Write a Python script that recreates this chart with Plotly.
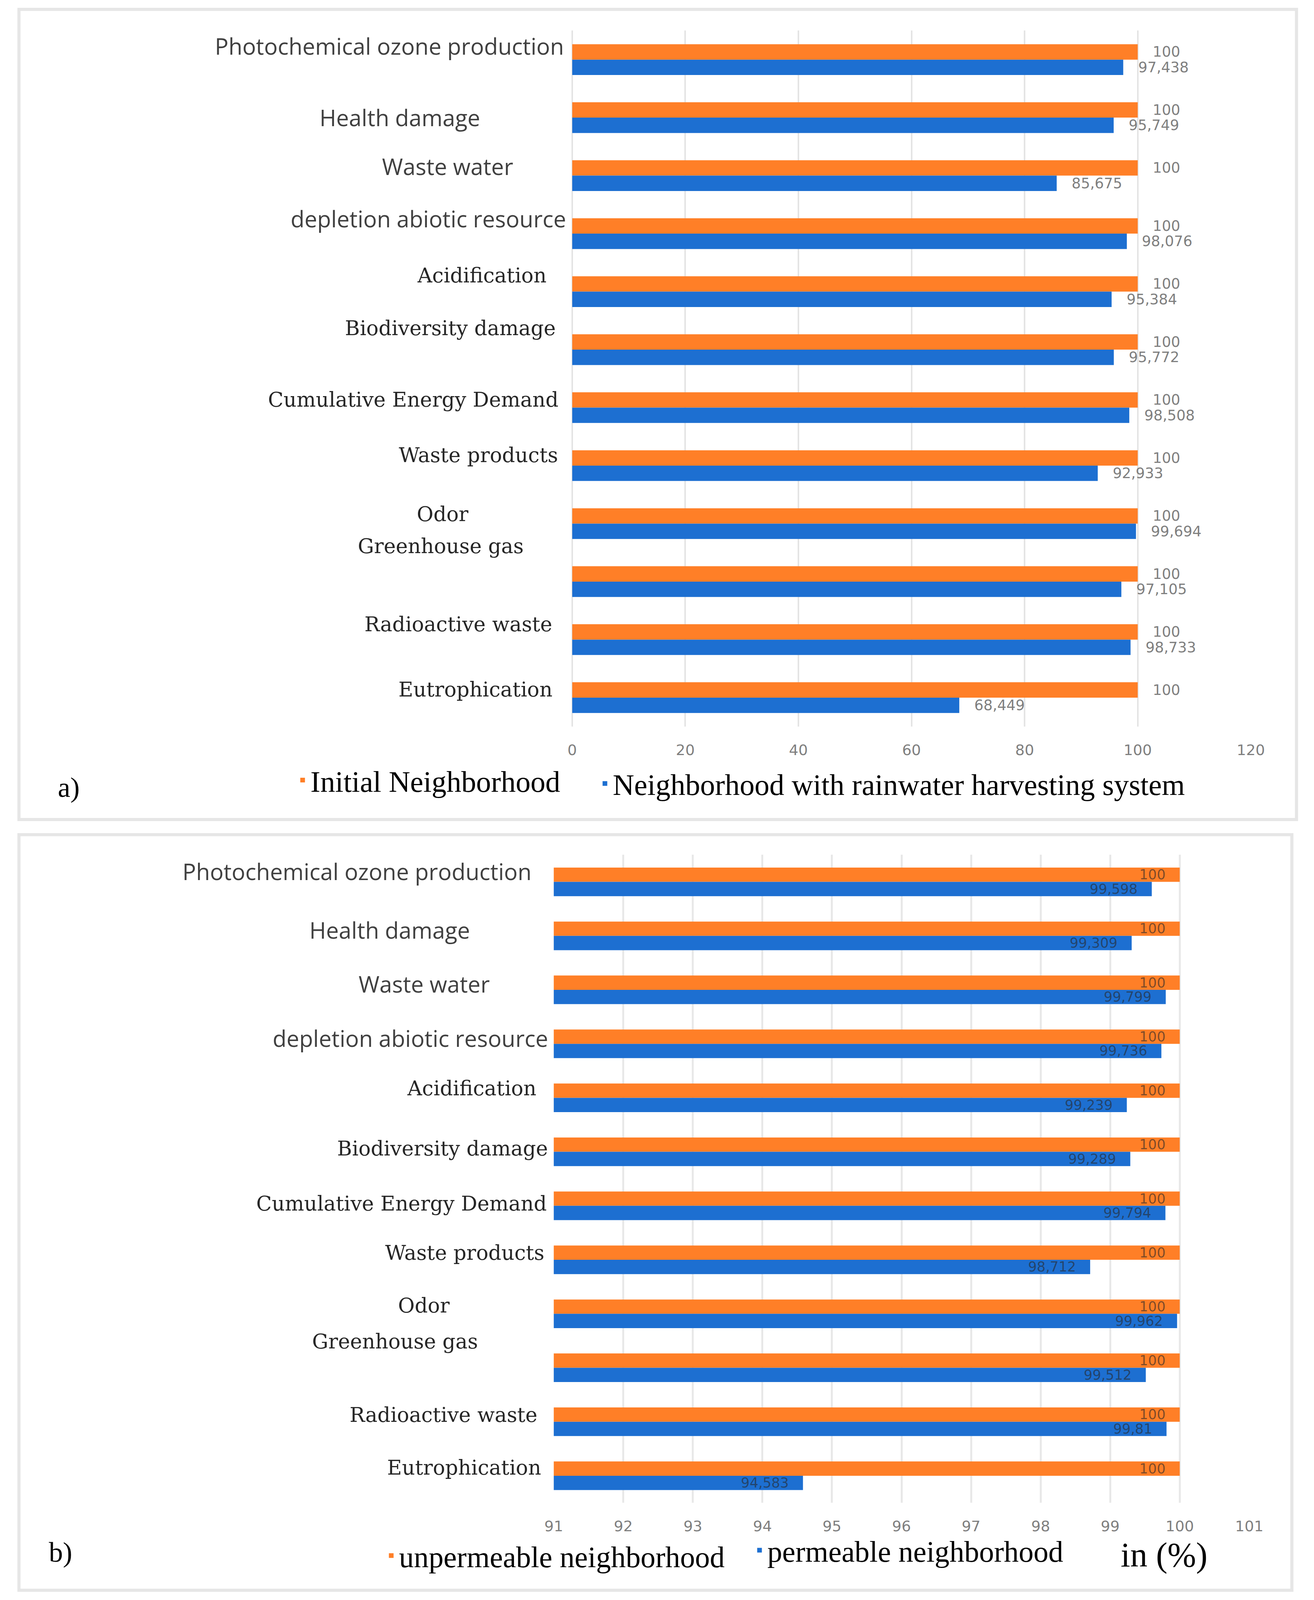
import plotly.graph_objects as go

# ---------------- data ----------------
categories = [
    "Photochemical ozone production",
    "Health damage",
    "Waste water",
    "depletion abiotic resource",
    "Acidification",
    "Biodiversity damage",
    "Cumulative Energy Demand",
    "Waste products",
    "Odor",
    "Greenhouse gas",
    "Radioactive waste",
    "Eutrophication",
]
initial_neighborhood = [100, 100, 100, 100, 100, 100, 100, 100, 100, 100, 100, 100]
rainwater_neighborhood = [97.438, 95.749, 85.675, 98.076, 95.384, 95.772,
                          98.508, 92.933, 99.694, 97.105, 98.733, 68.449]
unpermeable_neighborhood = [100, 100, 100, 100, 100, 100, 100, 100, 100, 100, 100, 100]
permeable_neighborhood = [99.598, 99.309, 99.799, 99.736, 99.239, 99.289,
                          99.794, 98.712, 99.962, 99.512, 99.81, 94.583]

legend_a = ["Initial Neighborhood", "Neighborhood with rainwater harvesting system"]
legend_b = ["unpermeable neighborhood", "permeable neighborhood"]

# ---------------- style ----------------
W, H = 3364, 4754   # reference design size (positions below are given in these pixels)
ORANGE = "#FF7F27"
BLUE = "#1D6FD1"
SANS = "Open Sans"
NUM = "DejaVu Sans"
SERIF = "DejaVu Serif"
LEG_SERIF = "Liberation Serif"
N_SANS_LABELS = 4  # first labels drawn in a sans face, the rest in a serif face

# label placement tweaks (pixels): shift from the plot's left edge, vertical shift
lab_dx_a = [-19, -234, -149, -14, -64, -40, -33, -34, -264, -122, -49, -49]
lab_dy_a = [35, 1, 24, 39, 42, 55, 21, 27, 24, 91, 39, 21]
lab_dx_b = [-55, -213, -162, -13, -43, -13, -16, -22, -265, -192, -40, -31]
lab_dy_b = [27, 15, 15, 15, 24, 9, 6, 18, 21, 67, 18, 21]


def px_x(p):
    return p / W


def px_y(p):
    return 1 - p / H


def fmt(v):
    return f"{v:g}".replace(".", ",")


PAD = "\u00a0\u00a0\u00a0"

fig = go.Figure()

# ---------- panel a ----------
for vals, name, col, leg in [(initial_neighborhood, legend_a[0], ORANGE, "legend"),
                             (rainwater_neighborhood, legend_a[1], BLUE, "legend3")]:
    fig.add_trace(go.Bar(
        y=categories, x=vals, orientation="h", name=name,
        marker=dict(color=col, line=dict(width=0)),
        text=[PAD + fmt(v) for v in vals], textposition="outside",
        textangle=0, constraintext="none", cliponaxis=False,
        textfont=dict(family=NUM, size=37, color="#7F7F7F"),
        xaxis="x", yaxis="y", legend=leg, hoverinfo="skip",
    ))

# ---------- panel b ----------
for vals, name, col, leg in [(unpermeable_neighborhood, legend_b[0], ORANGE, "legend2"),
                             (permeable_neighborhood, legend_b[1], BLUE, "legend4")]:
    fig.add_trace(go.Bar(
        y=categories, x=vals, orientation="h", name=name,
        marker=dict(color=col, line=dict(width=0)),
        text=[fmt(v) + PAD for v in vals], textposition="inside",
        insidetextanchor="end", textangle=0, constraintext="none",
        textfont=dict(family=NUM, size=35, color="rgba(40,40,40,0.6)"),
        xaxis="x2", yaxis="y2", legend=leg, hoverinfo="skip",
    ))

annotations = []
for i, cat in enumerate(categories):
    fam = SANS if i < N_SANS_LABELS else SERIF
    colr = "#404040" if i < N_SANS_LABELS else "#262626"
    size = 58 if i < N_SANS_LABELS else 52
    annotations.append(dict(
        text=cat, xref="x domain", x=0, xanchor="right", xshift=lab_dx_a[i],
        yref="y", y=cat, yanchor="middle", yshift=lab_dy_a[i], showarrow=False,
        font=dict(family=fam, size=size, color=colr)))
    annotations.append(dict(
        text=cat, xref="x2 domain", x=0, xanchor="right", xshift=lab_dx_b[i],
        yref="y2", y=cat, yanchor="middle", yshift=lab_dy_b[i], showarrow=False,
        font=dict(family=fam, size=size, color=colr)))

annotations += [
    dict(text="a)", xref="paper", yref="paper", x=px_x(155), y=px_y(2340),
         xanchor="center", yanchor="middle", showarrow=False,
         font=dict(family=LEG_SERIF, size=72, color="black")),
    dict(text="b)", xref="paper", yref="paper", x=px_x(133), y=px_y(4612),
         xanchor="center", yanchor="middle", showarrow=False,
         font=dict(family=LEG_SERIF, size=72, color="black")),
    dict(text="in (%)", xref="paper", yref="paper", x=px_x(3010), y=px_y(4620),
         xanchor="center", yanchor="middle", showarrow=False,
         font=dict(family=LEG_SERIF, size=88, color="black")),
]

frame = dict(color="#E6E6E6", width=8)
shapes = [
    dict(type="rect", xref="paper", yref="paper", x0=px_x(25), x1=px_x(3355),
         y0=px_y(2435), y1=px_y(28), line=frame, layer="below"),
    dict(type="rect", xref="paper", yref="paper", x0=px_x(25), x1=px_x(3343),
         y0=px_y(4725), y1=px_y(2480), line=frame, layer="below"),
]

tickfont = dict(family=NUM, size=38, color="#7F7F7F")
legfont = dict(family=LEG_SERIF, size=76, color="black")


def leg(xpx, ypx):
    return dict(orientation="h", x=px_x(xpx), y=px_y(ypx), xanchor="left",
                yanchor="middle", font=legfont, bgcolor="rgba(0,0,0,0)")


fig.update_layout(
    autosize=True,
    margin=dict(l=0, r=0, t=0, b=0),
    paper_bgcolor="white", plot_bgcolor="white",
    barmode="group", bargap=0.47, bargroupgap=0,
    xaxis=dict(domain=[px_x(1467), px_x(3236)], range=[0, 120], dtick=20,
               anchor="y", showgrid=True, gridcolor="#E4E4E4", gridwidth=4,
               zeroline=True, zerolinecolor="#E4E4E4", zerolinewidth=4,
               showline=False, ticks="", tickfont=tickfont, ticklabelstandoff=34),
    yaxis=dict(domain=[px_y(2159), px_y(91)], type="category", autorange="reversed",
               anchor="x", showticklabels=False, showgrid=False, zeroline=False,
               showline=False, ticks=""),
    xaxis2=dict(domain=[px_x(1419), px_x(3232)], range=[91, 101], dtick=1,
                anchor="y2", showgrid=True, gridcolor="#E8E8E8", gridwidth=5,
                zeroline=False, showline=False, ticks="", tickfont=tickfont,
                ticklabelstandoff=34),
    yaxis2=dict(domain=[px_y(4465), px_y(2540)], type="category", autorange="reversed",
                anchor="x2", showticklabels=False, showgrid=False, zeroline=False,
                showline=False, ticks=""),
    legend=leg(744, 2318),
    legend3=leg(1532, 2328),
    legend2=leg(975, 4622),
    legend4=leg(1935, 4606),
    annotations=annotations,
    shapes=shapes,
    showlegend=True,
)

post = (
    "document.documentElement.style.margin='0';"
    "document.body.style.margin='0';"
    "document.documentElement.style.overflow='hidden';"
    "document.body.style.overflow='hidden';"
    "var gd=document.getElementById('{plot_id}');"
    "gd.style.width='100vw';gd.style.height='100vh';"
    "Plotly.Plots.resize(gd);"
)

fig.write_html("out.html", config={"displayModeBar": False, "responsive": True},
               default_width="100vw", default_height="100vh", post_script=post)
